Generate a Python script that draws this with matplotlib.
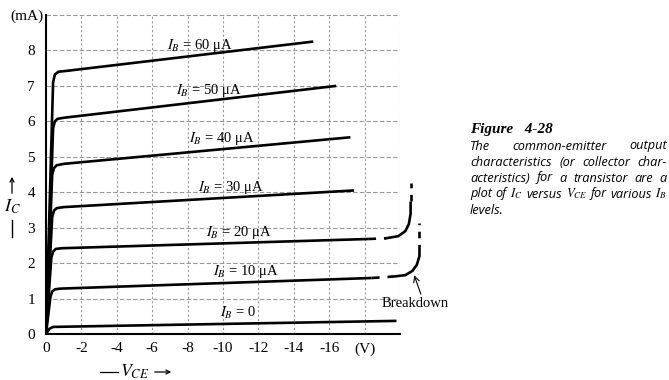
import matplotlib
matplotlib.use("Agg")
import matplotlib.pyplot as plt

plt.rcParams['font.family'] = ['Liberation Serif', 'DejaVu Serif']
plt.rcParams['mathtext.fontset'] = 'stix'

# collector characteristics (V_CE in volts, I_C in mA)
curves = {
    0:  ([0, -0.2, -0.4, -19.8], [0, 0.15, 0.2, 0.37]),
    10: ([0, -0.25, -0.35, -0.5, -0.8, -18.4], [0, 1.05, 1.2, 1.26, 1.28, 1.58]),
    20: ([0, -0.3, -0.4, -0.55, -0.9, -18.2], [0, 2.15, 2.32, 2.4, 2.42, 2.68]),
    30: ([0, -0.35, -0.45, -0.6, -1.0, -17.4], [0, 3.3, 3.48, 3.55, 3.58, 4.05]),
    40: ([0, -0.35, -0.45, -0.6, -1.0, -17.2], [0, 4.5, 4.68, 4.76, 4.8, 5.55]),
    50: ([0, -0.4, -0.5, -0.65, -1.0, -16.4], [0, 5.8, 6.0, 6.07, 6.1, 7.0]),
    60: ([0, -0.4, -0.5, -0.7, -1.1, -15.1], [0, 7.1, 7.32, 7.4, 7.42, 8.25]),
}
# breakdown region for IB = 10 and 20 uA
bd_dash = {10: ([-18.4, -19.6], [1.58, 1.62]), 20: ([-18.2, -19.2], [2.68, 2.7])}
bd_curve = {
    10: ([-19.6, -20.3, -20.7, -20.95, -21.1, -21.1], [1.62, 1.66, 1.78, 1.95, 2.2, 2.3]),
    20: ([-19.2, -19.9, -20.3, -20.5, -20.6, -20.6], [2.7, 2.76, 2.9, 3.1, 3.4, 3.7]),
}
bd_vert = {10: ([-21.1, -21.1], [2.35, 3.13]), 20: ([-20.6, -20.6], [3.75, 4.25])}

label_pos = {60: (-8.7, 8.14), 50: (-9.2, 6.87), 40: (-9.94, 5.52), 30: (-10.45, 4.14),
             20: (-10.9, 2.85), 10: (-11.3, 1.75), 0: (-10.85, 0.59)}

xticks = [0, -2, -4, -6, -8, -10, -12, -14, -16, -18]
xticklabels = ['0', '-2', '-4', '-6', '-8', '-10', '-12', '-14', '-16', '(V)']
yticks = list(range(10))
yticklabels = [str(v) for v in range(9)] + ['(mA)']

fig = plt.figure(figsize=(6.69, 3.80), dpi=100)
ax = fig.add_axes([46 / 669, 1 - 334 / 380, 354 / 669, 319 / 380])
ax.set_xlim(0, -20)
ax.set_ylim(0, 9)

# grid
for x in range(-2, -21, -2):
    ax.plot([x, x], [0, 9], color='#999999', lw=0.8, ls=(0, (2, 2)), zorder=1)
for y in range(1, 10):
    ax.plot([0, -20], [y, y], color='#999999', lw=0.8, ls=(0, (4, 2)), zorder=1)

for ib, (v, i) in curves.items():
    ax.plot(v, i, color='black', lw=1.9, solid_capstyle='butt', zorder=3)
    lx, ly = label_pos[ib]
    txt = '$I_B$ = 0' if ib == 0 else '$I_B$ = %d μA' % ib
    ax.text(lx, ly, txt, fontsize=10.5, ha='center', va='center', zorder=4)

for ib in (10, 20):
    ax.plot(*bd_dash[ib], color='black', lw=1.9, ls=(0, (3, 3)), zorder=3, clip_on=False)
    ax.plot(*bd_curve[ib], color='black', lw=1.9, zorder=3, clip_on=False)
    ax.plot(*bd_vert[ib], color='black', lw=1.9, ls=(0, (2.5, 2.5)), zorder=3, clip_on=False)

ax.annotate('Breakdown', xy=(-20.8, 1.66), xytext=(-20.85, 0.87),
            fontsize=10.5, ha='center', va='center', annotation_clip=False,
            arrowprops=dict(arrowstyle='->', lw=0.8, color='black', shrinkB=0,
                            patchA=None, relpos=(0.6, 1.0)))

ax.set_xticks(xticks)
ax.set_xticklabels(xticklabels, fontsize=11)
ax.set_yticks(yticks)
ax.set_yticklabels(yticklabels, fontsize=11)
ax.tick_params(axis='x', length=0, pad=6)
ax.tick_params(axis='y', length=0, pad=8)
ax.get_yticklabels()[-1].set_x(0.025)
for s in ('top', 'right'):
    ax.spines[s].set_visible(False)
ax.spines['left'].set_linewidth(1.5)
ax.spines['bottom'].set_linewidth(1.5)

# axis titles
fig.text(12 / 669, 1 - 207 / 380, '$I_C$', fontsize=13, ha='center', va='center')
fig.add_artist(matplotlib.patches.FancyArrowPatch((12 / 669, 1 - 196 / 380), (12 / 669, 1 - 174 / 380),
               transform=fig.transFigure, arrowstyle='->', mutation_scale=7, lw=0.9, color='black'))
fig.add_artist(matplotlib.lines.Line2D([12 / 669, 12 / 669], [1 - 220 / 380, 1 - 237 / 380],
               transform=fig.transFigure, lw=1.0, color='black'))
fig.text(135 / 669, 1 - 372 / 380, '$V_{CE}$', fontsize=13, ha='center', va='center')
fig.add_artist(matplotlib.lines.Line2D([100 / 669, 118 / 669], [1 - 372 / 380] * 2,
               transform=fig.transFigure, lw=0.9, color='black'))
fig.add_artist(matplotlib.patches.FancyArrowPatch((152 / 669, 1 - 372 / 380), (174 / 669, 1 - 372 / 380),
               transform=fig.transFigure, arrowstyle='->', mutation_scale=7, lw=0.9, color='black'))

# caption, justified between x=470 and x=667
cap_lines = [
    ['The', 'common-emitter', 'output'],
    ['characteristics', '(or', 'collector', 'char-'],
    ['acteristics)', 'for', 'a', 'transistor', 'are', 'a'],
    ['plot', 'of', '$I_C$', 'versus', '$V_{CE}$', 'for', 'various', '$I_B$'],
    ['levels.'],
]
fig.text(470 / 669, 1 - 129 / 380, 'Figure   4-28', fontsize=11, fontweight='bold', style='italic',
         ha='left', va='center')
renderer = fig.canvas.get_renderer()
left, right = 470, 667
for k, words in enumerate(cap_lines):
    y = 1 - (146 + 16 * k) / 380
    arts = [fig.text(0, y, w, fontsize=9.2, family='Open Sans', style='italic', va='center')
            for w in words]
    widths = [a.get_window_extent(renderer).width for a in arts]
    if len(words) > 1 and k < len(cap_lines) - 1:
        gap = (right - left - sum(widths)) / (len(words) - 1)
    else:
        gap = 3
    x = left
    for a, w in zip(arts, widths):
        a.set_x(x / 669)
        x += w + gap

fig.savefig('out.png', dpi=100)
